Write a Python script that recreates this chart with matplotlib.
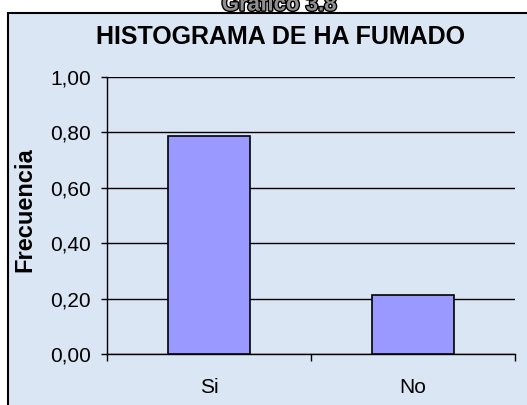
import numpy as np
import matplotlib.pyplot as plt
import matplotlib.patheffects as pe
from matplotlib.patches import Rectangle
from matplotlib.ticker import FixedLocator, FuncFormatter

categorias = ["Si", "No"]
frecuencias = [0.786, 0.214]
yticks = [0.0, 0.2, 0.4, 0.6, 0.8, 1.0]

plt.rcParams['font.family'] = ['Liberation Sans', 'DejaVu Sans']

fig = plt.figure(figsize=(5.27, 4.05), dpi=100)
fig.patch.set_facecolor('white')

# marco exterior del grafico
marco = Rectangle((8 / 527, -0.05), 1.05, 0.05 + 1 - 13 / 405,
                  transform=fig.transFigure, facecolor='#dae6f4',
                  edgecolor='black', linewidth=1.5, zorder=-10)
fig.patches.append(marco)

# titulo superior con contorno (recortado en el borde)
fig.text(0.53, 1 - 5 / 405, "Gráfico 3.8", ha='center', va='center',
         fontsize=16, fontweight='bold', color='#909090',
         path_effects=[pe.withStroke(linewidth=2, foreground='black')])

ax = fig.add_axes([107 / 527, 51 / 405, 408 / 527, 277 / 405])
ax.set_facecolor('none')

x = np.arange(len(categorias))
ax.bar(x, frecuencias, width=0.4, color='#9999ff', edgecolor='black',
       linewidth=1.2, zorder=3)

ax.set_xlim(-0.5, len(categorias) - 0.5)
ax.set_ylim(0, 1.0)
ax.yaxis.set_major_locator(FixedLocator(yticks))
ax.yaxis.set_major_formatter(FuncFormatter(lambda v, p: f"{v:.2f}".replace('.', ',')))
ax.grid(axis='y', color='black', linewidth=1)
ax.set_axisbelow(True)

ax.set_xticks(x)
ax.set_xticklabels(categorias, fontsize=15)
ax.xaxis.set_minor_locator(FixedLocator([-0.5, 0.5, 1.5]))
ax.tick_params(axis='x', which='major', length=0, pad=17)
ax.tick_params(axis='x', which='minor', length=5, width=1)
ax.tick_params(axis='y', length=4.5, width=1, labelsize=15, pad=7)

for s in ['top', 'right']:
    ax.spines[s].set_visible(False)
ax.spines['left'].set_linewidth(1)
ax.spines['bottom'].set_linewidth(1)

ax.set_ylabel("Frecuencia", fontsize=17, fontweight='bold')
ax.yaxis.set_label_coords(-0.172, 0.52)
fig.text(280 / 527, 1 - 37 / 405, "HISTOGRAMA DE HA FUMADO", ha='center',
         va='center', fontsize=18, fontweight='bold')

fig.savefig("out.png", dpi=100)
